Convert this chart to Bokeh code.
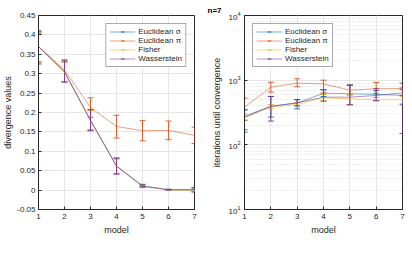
from bokeh.plotting import figure
from bokeh.models import (ColumnDataSource, Whisker, TeeHead, Legend, LegendItem,
                          FixedTicker, Title, Range1d)
from bokeh.layouts import row
from bokeh.embed import file_html
from bokeh.resources import INLINE

models = [1, 2, 3, 4, 5, 6, 7]
series_names = ["Euclidean σ", "Euclidean π", "Fisher", "Wasserstein"]
series_colors = ["#0072BD", "#D95319", "#EDB120", "#7E2F8E"]

# left panel: divergence values
div_eucl_sigma = [0.370, 0.305, 0.180, 0.062, 0.011, 0.001, 0.001]
div_eucl_sigma_lo = [0.330, 0.280, 0.155, 0.043, 0.007, 0.000, -0.003]
div_eucl_sigma_hi = [0.405, 0.330, 0.205, 0.081, 0.015, 0.002, 0.005]
div_eucl_pi = [0.370, 0.310, 0.213, 0.164, 0.153, 0.154, 0.141]
div_eucl_pi_lo = [0.330, 0.280, 0.188, 0.134, 0.127, 0.130, 0.120]
div_eucl_pi_hi = [0.410, 0.336, 0.238, 0.193, 0.179, 0.178, 0.162]
div_fisher = [0.370, 0.303, 0.178, 0.061, 0.010, 0.0005, -0.002]
div_fisher_lo = [0.330, 0.280, 0.155, 0.043, 0.008, 0.000, -0.004]
div_fisher_hi = [0.405, 0.330, 0.205, 0.080, 0.012, 0.001, 0.000]
div_wass = [0.370, 0.305, 0.180, 0.062, 0.010, 0.001, 0.001]
div_wass_lo = [0.325, 0.278, 0.153, 0.041, 0.008, 0.000, -0.005]
div_wass_hi = [0.410, 0.333, 0.208, 0.083, 0.013, 0.002, 0.007]
div_ticks = [-0.05, 0, 0.05, 0.1, 0.15, 0.2, 0.25, 0.3, 0.35, 0.4, 0.45]
div_tick_labels = ["-0.05", "0", "0.05", "0.1", "0.15", "0.2", "0.25", "0.3", "0.35", "0.4", "0.45"]

# right panel: iterations until convergence
it_eucl_sigma = [275, 396, 442, 630, 617, 605, 580]
it_eucl_sigma_lo = [157, 268, 360, 560, 417, 540, 417]
it_eucl_sigma_hi = [348, 560, 500, 710, 838, 690, 711]
it_eucl_pi = [383, 780, 900, 875, 701, 737, 743]
it_eucl_pi_lo = [238, 653, 790, 635, 590, 617, 581]
it_eucl_pi_hi = [527, 930, 1050, 1000, 838, 920, 760]
it_fisher = [262, 383, 421, 535, 515, 498, 498]
it_fisher_lo = [244, 360, 400, 480, 420, 473, 440]
it_fisher_hi = [300, 420, 450, 600, 600, 540, 560]
it_wass = [269, 392, 447, 546, 546, 580, 635]
it_wass_lo = [171, 233, 400, 473, 417, 485, 150]
it_wass_hi = [348, 560, 500, 711, 838, 740, 900]
it_ticks = [10, 100, 1000, 10000]

INK = "#262626"
FONT = "Liberation Sans"


def style(p):
    p.outline_line_color = INK
    p.outline_line_width = 1
    p.background_fill_color = "white"
    p.border_fill_color = "white"
    for ax in p.axis:
        ax.axis_line_color = INK
        ax.major_tick_line_color = INK
        ax.major_tick_in = 3
        ax.major_tick_out = 0
        ax.minor_tick_in = 0
        ax.minor_tick_out = 0
        ax.major_label_text_font = FONT
        ax.major_label_text_font_size = "8px"
        ax.major_label_text_color = INK
        ax.axis_label_text_font = FONT
        ax.axis_label_text_font_size = "9px"
        ax.axis_label_text_font_style = "normal"
        ax.axis_label_text_color = INK
        ax.major_label_standoff = 4
        ax.axis_label_standoff = 3
    p.xgrid.grid_line_color = "#e6e6e6"
    p.ygrid.grid_line_color = "#e6e6e6"


def add_series(p, means, los, his, head=6):
    items = []
    for name, color, m, lo, hi in zip(series_names, series_colors, means, los, his):
        src = ColumnDataSource(dict(x=models, y=m, lo=lo, hi=hi))
        ln = p.line("x", "y", source=src, line_color=color, line_alpha=0.55, line_width=1)
        w = Whisker(source=src, base="x", lower="lo", upper="hi", dimension="height",
                    line_color=color, line_width=1, line_alpha=0.9,
                    upper_head=TeeHead(size=head, line_color=color, line_alpha=0.9),
                    lower_head=TeeHead(size=head, line_color=color, line_alpha=0.9))
        p.add_layout(w)
        mk = p.scatter("x", "y", source=src, marker="dash", angle=1.5708, size=0,
                       line_color=color, line_width=1)
        items.append(LegendItem(label=name, renderers=[ln, mk]))
    return items


def make_legend(items, loc):
    lg = Legend(items=items, location=loc, margin=8, padding=3, spacing=0,
                label_text_font=FONT, label_text_font_size="8px", label_text_color=INK,
                label_height=9, glyph_height=9, glyph_width=26, label_standoff=3,
                border_line_color="#555555", border_line_width=1,
                background_fill_color="white", background_fill_alpha=1)
    return lg


# ---------- left figure ----------
p1 = figure(width=206, height=244, output_backend="svg", toolbar_location=None,
            x_range=Range1d(1, 7), y_range=Range1d(-0.05, 0.45))
p1.min_border_left = 35
p1.min_border_right = 12
p1.min_border_top = 15
p1.min_border_bottom = 35
style(p1)
p1.xaxis.ticker = FixedTicker(ticks=models)
p1.yaxis.ticker = FixedTicker(ticks=div_ticks)
p1.yaxis.major_label_overrides = {t: s for t, s in zip(div_ticks, div_tick_labels)}
p1.yaxis.major_label_standoff = 3
p1.yaxis.axis_label_standoff = 1
p1.xaxis.axis_label = "model"
p1.yaxis.axis_label = "divergence values"
items1 = add_series(p1,
                    [div_eucl_sigma, div_eucl_pi, div_fisher, div_wass],
                    [div_eucl_sigma_lo, div_eucl_pi_lo, div_fisher_lo, div_wass_lo],
                    [div_eucl_sigma_hi, div_eucl_pi_hi, div_fisher_hi, div_wass_hi])
p1.add_layout(make_legend(items1, "top_right"))

# ---------- right figure ----------
p2 = figure(width=204, height=244, output_backend="svg", toolbar_location=None,
            x_range=Range1d(1, 7), y_range=Range1d(10, 10000), y_axis_type="log")
p2.min_border_left = 38
p2.min_border_right = 8
p2.min_border_top = 15
p2.min_border_bottom = 35
style(p2)
p2.xaxis.ticker = FixedTicker(ticks=models)
minor = [k * t for t in it_ticks[:-1] for k in range(2, 10)]
p2.yaxis.ticker = FixedTicker(ticks=it_ticks, minor_ticks=minor)
p2.ygrid.minor_grid_line_color = "#d9d9d9"
p2.ygrid.minor_grid_line_dash = "1 2"
p2.xaxis.axis_label = "model"
p2.yaxis.axis_label = "iterations until convergence"
items2 = add_series(p2,
                    [it_eucl_sigma, it_eucl_pi, it_fisher, it_wass],
                    [it_eucl_sigma_lo, it_eucl_pi_lo, it_fisher_lo, it_wass_lo],
                    [it_eucl_sigma_hi, it_eucl_pi_hi, it_fisher_hi, it_wass_hi])
p2.add_layout(make_legend(items2, "top_left"))
p2.title = Title(text="n=7", align="left", offset=-37, standoff=2,
                 text_font=FONT, text_font_size="8px", text_font_style="bold",
                 text_color="black")

layout = row(p1, p2)
open("out.html", "w").write(file_html(layout, INLINE))
